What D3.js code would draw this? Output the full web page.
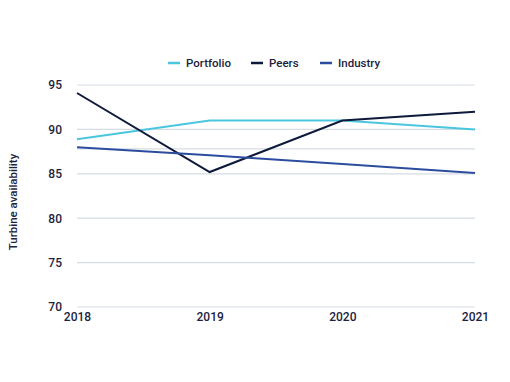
<!DOCTYPE html>
<html><head><meta charset="utf-8">
<script src="https://cdn.jsdelivr.net/npm/d3@7"></script>
<style>
body{margin:0;background:#fff;}
text{font-family:Roboto,"Noto Sans",sans-serif;}
</style></head>
<body>
<svg id="c" width="510" height="382"></svg>
<script>
const years = ["2018","2019","2020","2021"];
const portfolio = [88.9, 91.0, 91.0, 90.0];
const peers = [94.1, 85.2, 91.0, 92.0];
const industry = [88.0, 87.1, 86.1, 85.1];
const yTicks = [70,75,80,85,90,95];
const extraGrid = [87.8];
const seriesNames = ["Portfolio","Peers","Industry"];
const colors = ["#4ac6df","#0e1a3b","#2c4d9f"];
const yTitle = "Turbine availability";

const series = [portfolio, peers, industry];
const svg = d3.select("#c");
const x = d3.scalePoint().domain(years).range([77,475]);
const y = d3.scaleLinear().domain([70,95]).range([307,85]);
const textColor = "#1b2340";

// gridlines
svg.append("g").selectAll("line").data(yTicks.concat(extraGrid)).join("line")
  .attr("x1",77).attr("x2",475)
  .attr("y1",d=>y(d)).attr("y2",d=>y(d))
  .attr("stroke","#d6dce3").attr("stroke-width",1.2);

// y axis labels
const yAxis = d3.axisLeft(y).tickValues(yTicks).tickSize(0).tickPadding(0);
const ga = svg.append("g").attr("transform","translate(62,0)").call(yAxis);
ga.select(".domain").remove();
ga.selectAll("text").attr("fill",textColor).attr("font-size","12px").attr("font-weight",500)
  .attr("font-family","Roboto,sans-serif");

// x axis labels
const xAxis = d3.axisBottom(x).tickSize(0).tickPadding(0);
const gx = svg.append("g").attr("transform","translate(0,312)").call(xAxis);
gx.select(".domain").remove();
gx.selectAll("text").attr("fill",textColor).attr("font-size","12px").attr("font-weight",500)
  .attr("font-family","Roboto,sans-serif");

// lines
const line = d3.line().x((d,i)=>x(years[i])).y(d=>y(d));
svg.append("g").selectAll("path").data(series).join("path")
  .attr("d",line).attr("fill","none")
  .attr("stroke",(d,i)=>colors[i]).attr("stroke-width",2);

// y title
svg.append("text").attr("transform","translate(17,202) rotate(-90)")
  .attr("text-anchor","middle").attr("fill",textColor)
  .attr("font-size","11.5px").attr("font-weight",500).text(yTitle);

// legend
const legendX = [168,251,320];
const lg = svg.append("g").selectAll("g").data(seriesNames).join("g")
  .attr("transform",(d,i)=>`translate(${legendX[i]},63)`);
lg.append("line").attr("x1",0).attr("x2",12).attr("y1",0).attr("y2",0)
  .attr("stroke",(d,i)=>colors[i]).attr("stroke-width",2.5);
lg.append("text").attr("x",18).attr("y",4).attr("fill",textColor)
  .attr("font-size","11.5px").attr("font-weight",500).text(d=>d);
</script>
</body></html>
